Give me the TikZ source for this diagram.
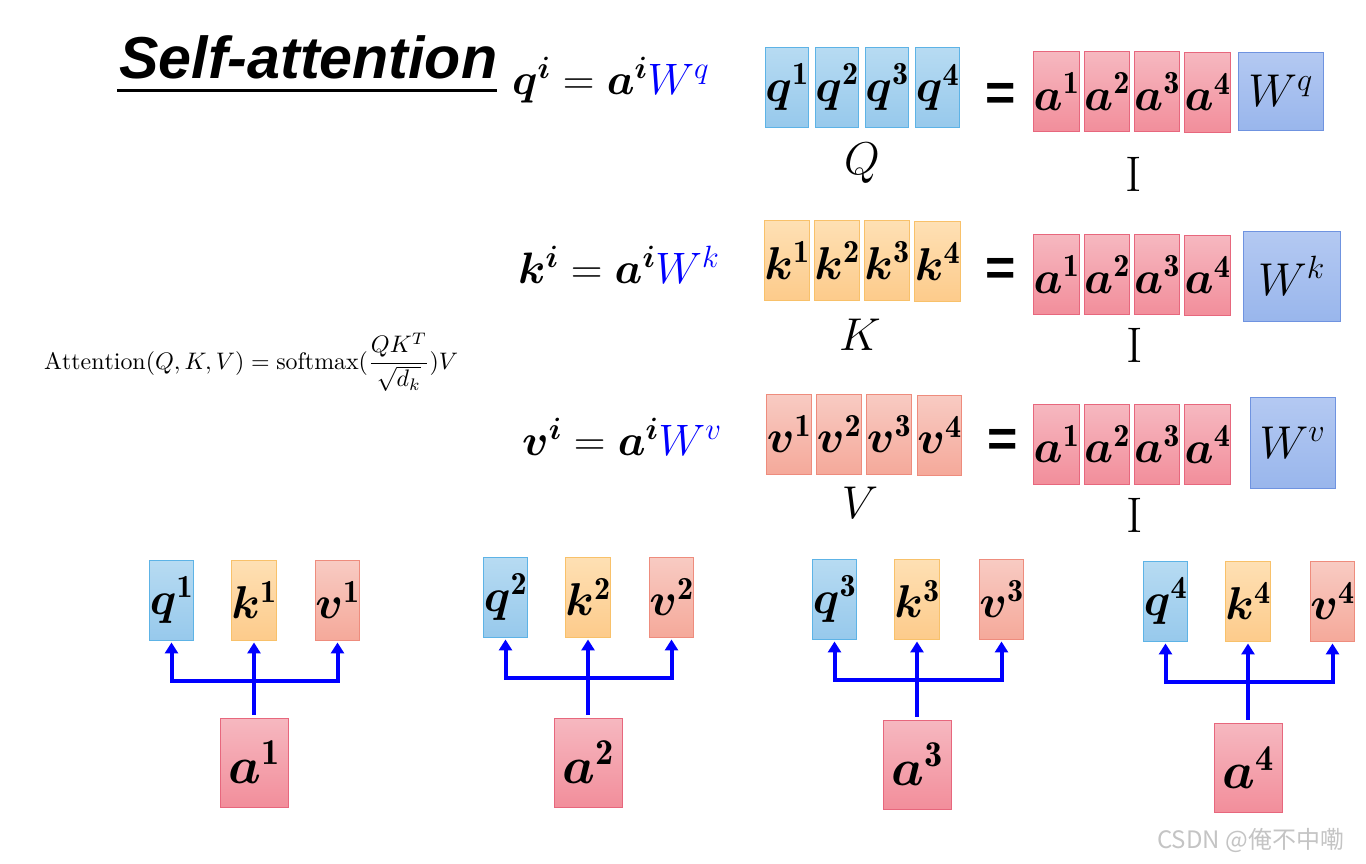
\RequirePackage{fix-cm}
\documentclass[tikz,border=0pt]{standalone}
\usepackage{amsmath,bm,graphicx}
\usepackage{fontspec}
\newfontfamily\titlefont{Liberation Sans}
\newfontfamily\cjkfont{Noto Sans CJK SC}
\usetikzlibrary{arrows.meta}
\definecolor{qtop}{HTML}{B7DBF2}\definecolor{qbot}{HTML}{97C9EC}\definecolor{qedge}{HTML}{5DB3E6}
\definecolor{ktop}{HTML}{FEE0B4}\definecolor{kbot}{HTML}{FDCB8B}\definecolor{kedge}{HTML}{F8C16A}
\definecolor{vtop}{HTML}{F8CBC3}\definecolor{vbot}{HTML}{F5A99A}\definecolor{vedge}{HTML}{EE8C7D}
\definecolor{atop}{HTML}{F6B8C0}\definecolor{abot}{HTML}{F28E9B}\definecolor{aedge}{HTML}{E7677D}
\definecolor{wtop}{HTML}{B4C9F2}\definecolor{wbot}{HTML}{99B6EC}\definecolor{wedge}{HTML}{6F93E0}
\definecolor{eqblue}{HTML}{0000FF}
\definecolor{wmgray}{HTML}{C4C4C4}
\newcommand{\boxsz}{\fontsize{46}{46}\selectfont}
\newcommand{\bigsz}{\fontsize{52}{52}\selectfont}
\newcommand{\eqsz}{\fontsize{44}{44}\selectfont}
\newcommand{\bv}[2]{\boxsz$\bm{#1}^{\mathbf{#2}}$}
\newcommand{\bbv}[2]{\bigsz$\bm{#1}^{\mathbf{#2}}$}
\tikzset{
  cell/.style={rectangle, inner sep=0pt, line width=0.9pt, minimum width=43, minimum height=80},
  qbox/.style={cell, top color=qtop, bottom color=qbot, draw=qedge},
  kbox/.style={cell, top color=ktop, bottom color=kbot, draw=kedge},
  vbox/.style={cell, top color=vtop, bottom color=vbot, draw=vedge},
  abox/.style={cell, top color=atop, bottom color=abot, draw=aedge},
  wbox/.style={cell, top color=wtop, bottom color=wbot, draw=wedge},
  bigabox/.style={abox, minimum width=68, minimum height=89},
  eqsign/.style={inner sep=0pt, font=\titlefont\bfseries\fontsize{52}{52}\selectfont},
  lbl/.style={inner sep=0pt, font=\fontsize{46}{46}\selectfont},
  ilbl/.style={inner sep=0pt, font=\fontsize{50}{50}\selectfont},
  eqn/.style={inner sep=0pt, anchor=base west},
  arr/.style={draw=eqblue, line width=4pt, -{Triangle[width=13pt,length=11pt]}, shorten >=2pt},
}
\begin{document}
\begin{tikzpicture}[x=1pt,y=-1pt]
\useasboundingbox (0,0) rectangle (1366,863);
% title
\node[inner sep=0pt, anchor=base west] (title) at (119,78)
  {\resizebox{378pt}{!}{\titlefont\bfseries\itshape\fontsize{60}{60}\selectfont Self-attention}};
\draw[line width=3pt] (117,90) -- (497,90);
% equations
\node[eqn] (eqq) at (512,94) {\eqsz$\bm{q}^{\bm{i}} = \bm{a}^{\bm{i}}\textcolor{eqblue}{W^{q}}$};
\node[eqn] (eqk) at (518,283) {\eqsz$\bm{k}^{\bm{i}} = \bm{a}^{\bm{i}}\textcolor{eqblue}{W^{k}}$};
\node[eqn] (eqv) at (522,455) {\eqsz$\bm{v}^{\bm{i}} = \bm{a}^{\bm{i}}\textcolor{eqblue}{W^{v}}$};
% attention formula
\node[inner sep=0pt, anchor=west] (att) at (44,362)
  {\resizebox{414pt}{!}{$\displaystyle \mathrm{Attention}(Q,K,V)=\mathrm{softmax}(\frac{QK^T}{\sqrt{d_k}})V$}};
% Q row
\node[qbox] (Q1) at (787,87) {\bv{q}{1}};
\node[qbox] (Q2) at (837,87) {\bv{q}{2}};
\node[qbox] (Q3) at (887,87) {\bv{q}{3}};
\node[qbox] (Q4) at (937.5,87.5) {\bv{q}{4}};
\node[eqsign] (eq1) at (1001,97) {=};
\node[abox] (QA1) at (1056.5,91.5) {\bv{a}{1}};
\node[abox] (QA2) at (1107,91.5) {\bv{a}{2}};
\node[abox] (QA3) at (1157,91.5) {\bv{a}{3}};
\node[abox] (QA4) at (1207.5,92) {\bv{a}{4}};
\node[wbox, minimum width=85, minimum height=78] (WQ) at (1280.5,91) {\boxsz$W^{q}$};
\node[lbl] (Qlab) at (862,163) {$Q$};
\node[ilbl] (QI) at (1134,174) {I};
% K row
\node[kbox] (K1) at (787,260.5) {\bv{k}{1}};
\node[kbox] (K2) at (837,260.5) {\bv{k}{2}};
\node[kbox] (K3) at (887,260.5) {\bv{k}{3}};
\node[kbox] (K4) at (937.5,261.5) {\bv{k}{4}};
\node[eqsign] (eq2) at (1001,272) {=};
\node[abox] (KA1) at (1056.5,274.5) {\bv{a}{1}};
\node[abox] (KA2) at (1107,274.5) {\bv{a}{2}};
\node[abox] (KA3) at (1157,274.5) {\bv{a}{3}};
\node[abox] (KA4) at (1207.5,275) {\bv{a}{4}};
\node[wbox, minimum width=97, minimum height=90] (WK) at (1291.5,276) {\boxsz$W^{k}$};
\node[lbl] (Klab) at (860,335) {$K$};
\node[ilbl] (KI) at (1135,345) {I};
% V row
\node[vbox] (V1) at (789,434) {\bv{v}{1}};
\node[vbox] (V2) at (839,434) {\bv{v}{2}};
\node[vbox] (V3) at (889,434) {\bv{v}{3}};
\node[vbox] (V4) at (939.5,435) {\bv{v}{4}};
\node[eqsign] (eq3) at (1003,443) {=};
\node[abox] (VA1) at (1056.5,444) {\bv{a}{1}};
\node[abox] (VA2) at (1107,444) {\bv{a}{2}};
\node[abox] (VA3) at (1157,444) {\bv{a}{3}};
\node[abox] (VA4) at (1207.5,444.5) {\bv{a}{4}};
\node[wbox, minimum width=85, minimum height=91] (WV) at (1292.5,442.5) {\boxsz$W^{v}$};
\node[lbl] (Vlab) at (860,503) {$V$};
\node[ilbl] (VI) at (1135,515) {I};
% bottom groups
\foreach \i/\qx/\kx/\vx/\by/\ay/\hy in {
  1/171.5/254/337.5/600/762.5/681,
  2/505.5/588/671.5/597/762.5/678,
  3/834.5/917/1001.5/599/764.5/680,
  4/1165.5/1248/1332.5/601/767.5/682}{
  \node[qbox] (q\i) at (\qx,\by) {\bv{q}{\i}};
  \node[kbox] (k\i) at (\kx,\by) {\bv{k}{\i}};
  \node[vbox] (v\i) at (\vx,\by) {\bv{v}{\i}};
  \node[bigabox] (a\i) at (\kx,\ay) {\bbv{a}{\i}};
  \coordinate (h\i) at (\kx,\hy);
  \draw[arr, shorten <=3pt] (a\i.north) -- (k\i.south);
  \draw[arr] (h\i) -| (q\i.south);
  \draw[arr] (h\i) -| (v\i.south);
}
% watermark
\node[inner sep=0pt, anchor=west, text=wmgray] (wm) at (1157,840)
  {\cjkfont\fontsize{24}{24}\selectfont CSDN @俺不中嘞};
\end{tikzpicture}
\end{document}
